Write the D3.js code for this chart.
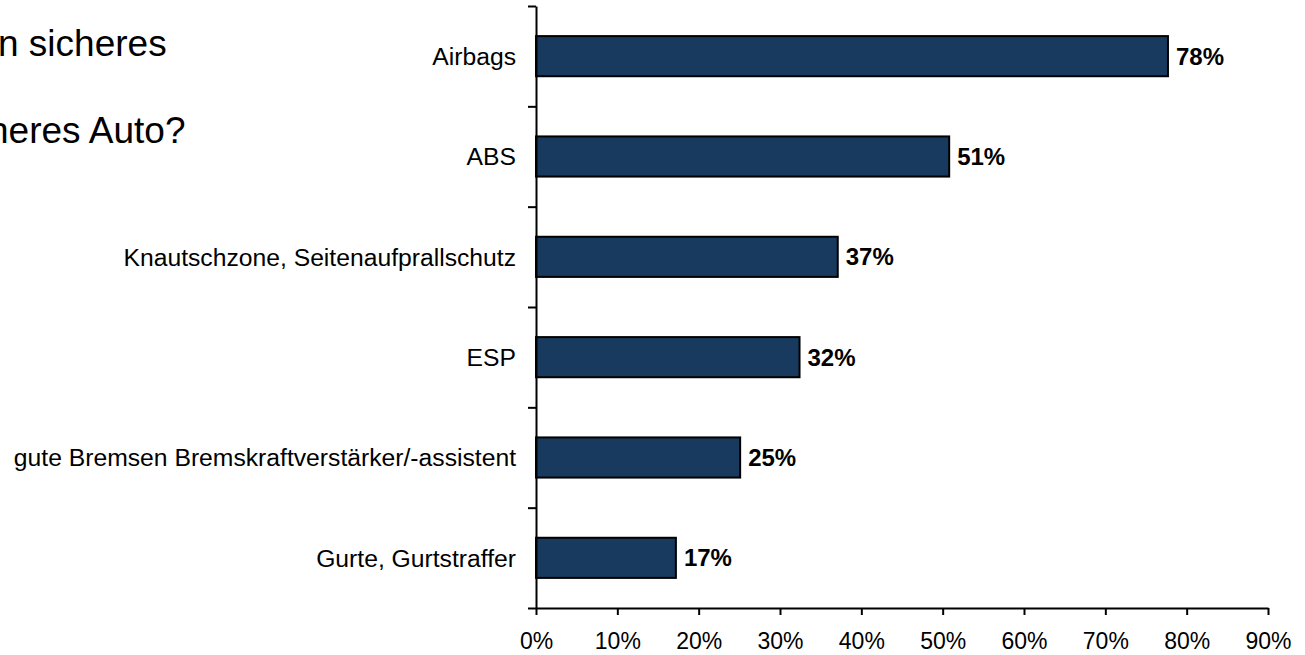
<!DOCTYPE html>
<html><head><meta charset="utf-8">
<script src="https://cdn.jsdelivr.net/npm/d3@7"></script>
<style>
body{margin:0;background:#fff;overflow:hidden}
svg{display:block;font-family:"Liberation Sans",Arial,sans-serif}
</style></head>
<body><svg id="c" width="1305" height="655"></svg>
<script>
const titleLines = ["n sicheres", "heres Auto?"];
const categories = ["Airbags", "ABS", "Knautschzone, Seitenaufprallschutz", "ESP", "gute Bremsen Bremskraftverstärker/-assistent", "Gurte, Gurtstraffer"];
const values = [77.7, 50.8, 37.1, 32.4, 25.1, 17.2];
const valueLabels = ["78%", "51%", "37%", "32%", "25%", "17%"];
const xTicks = [0, 10, 20, 30, 40, 50, 60, 70, 80, 90];

const svg = d3.select("#c");
const x = d3.scaleLinear().domain([0, 90]).range([536, 1268]);
const y = d3.scaleBand().domain(categories).range([6, 608]).paddingInner(0.6).paddingOuter(0.3);
const yb = d3.scaleBand().domain(categories).range([6, 608]);

// title fragments
svg.append("text").attr("x", -2).attr("y", 56).attr("font-size", 37).attr("fill", "#000").text(titleLines[0]);
svg.append("text").attr("x", -12).attr("y", 143).attr("font-size", 37).attr("fill", "#000").text(titleLines[1]);

// bars
svg.selectAll("rect.bar").data(values).join("rect")
  .attr("class", "bar")
  .attr("x", x(0))
  .attr("y", (d, i) => y(categories[i]))
  .attr("width", d => x(d) - x(0))
  .attr("height", y.bandwidth())
  .attr("fill", "#173A5E")
  .attr("stroke", "#000")
  .attr("stroke-width", 2);

// value labels
svg.selectAll("text.val").data(values).join("text")
  .attr("class", "val")
  .attr("x", d => x(d) + 8)
  .attr("y", (d, i) => y(categories[i]) + y.bandwidth() / 2)
  .attr("dy", "0.36em")
  .attr("font-size", 24)
  .attr("font-weight", "bold")
  .text((d, i) => valueLabels[i]);

// category labels
svg.selectAll("text.cat").data(categories).join("text")
  .attr("class", "cat")
  .attr("x", 516)
  .attr("y", d => yb(d) + yb.bandwidth() / 2)
  .attr("dy", "0.36em")
  .attr("text-anchor", "end")
  .attr("font-size", 24.7)
  .text(d => d);

// y axis with ticks at band boundaries
const bounds = categories.map(c => yb(c)).concat([608]);
const yLin = d3.scaleLinear().domain([6, 608]).range([6, 608]);
const yAxis = svg.append("g").attr("transform", `translate(${x(0)},0)`)
  .call(d3.axisLeft(yLin).tickValues(bounds).tickSize(8).tickSizeOuter(0).tickFormat(""));
yAxis.selectAll("path,line").attr("stroke", "#000").attr("stroke-width", 2);

// x axis
const xAxis = svg.append("g").attr("transform", "translate(0,608)")
  .call(d3.axisBottom(x).tickValues(xTicks).tickSize(7).tickSizeOuter(0).tickPadding(18).tickFormat(d => d + "%"));
xAxis.selectAll("path,line").attr("stroke", "#000").attr("stroke-width", 2);
xAxis.selectAll("text").attr("font-size", 23).attr("fill", "#000").attr("font-family", "Liberation Sans, Arial, sans-serif");
</script></body></html>
